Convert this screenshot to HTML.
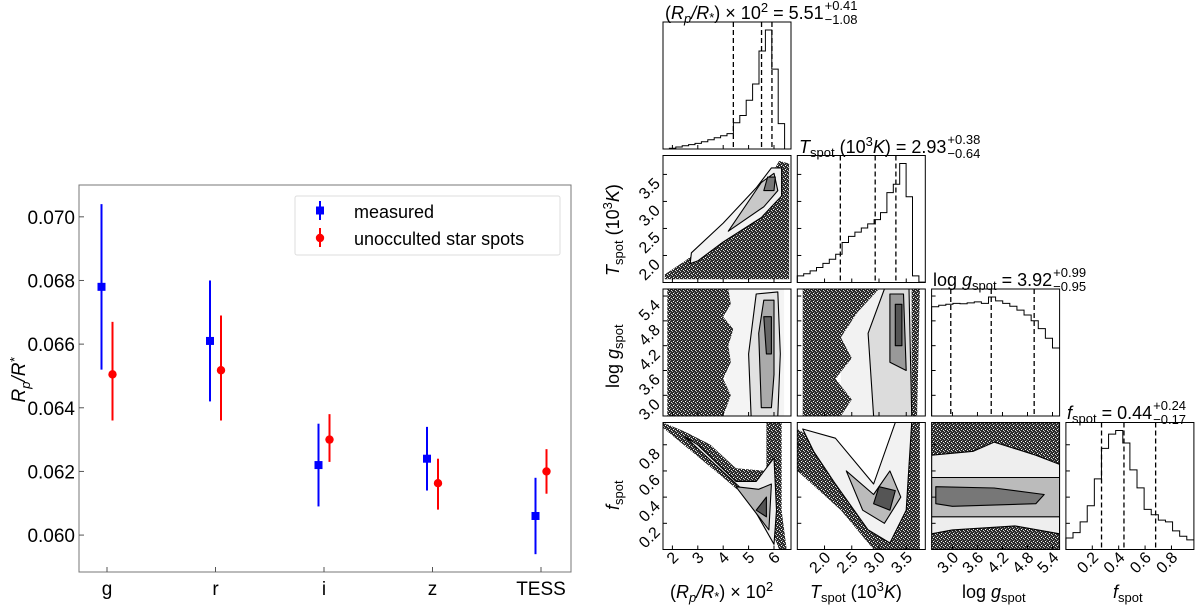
<!DOCTYPE html>
<html><head><meta charset="utf-8"><style>
body{margin:0;background:#fff}
svg{display:block;font-family:"Liberation Sans",sans-serif}
</style></head><body>
<svg id="fig" width="1200" height="610" viewBox="0 0 1200 610">
<defs>
<pattern id="speck" width="4" height="4" patternUnits="userSpaceOnUse">
<rect width="4" height="4" fill="#2a2a2a"/><rect x="1" y="1" width="1" height="1" fill="#fff"/><rect x="3" y="2" width="1" height="1" fill="#ddd"/><rect x="0" y="3" width="1" height="1" fill="#bbb"/><rect x="2" y="0" width="1" height="1" fill="#888"/>
</pattern>
</defs>
<g id="left"></g>
<g id="corner"></g>
</svg>
<script>
// ---------- Left chart data ----------
const bands = ["g","r","i","z","TESS"];
const measVal = [0.0678,0.0661,0.0622,0.0624,0.0606];
const measLo  = [0.0652,0.0642,0.0609,0.0614,0.0594];
const measHi  = [0.0704,0.0680,0.0635,0.0634,0.0618];
const spotVal = [0.06505,0.06518,0.0630,0.06163,0.0620];
const spotLo  = [0.0636,0.0636,0.0623,0.0608,0.0613];
const spotHi  = [0.0667,0.0669,0.0638,0.0624,0.0627];
const yTicks  = [0.060,0.062,0.064,0.066,0.068,0.070];

// ---------- Corner data ----------
const histR = [0,2,5,8,11,14,18,23,28,33,38,65,83,121,161,243,295,198,63,0];
const histT = [16,21,28,36,46,56,68,96,111,121,131,141,151,168,216,236,286,206,16,1];
const histG = [225,228,230,232,231,233,235,232,245,237,232,226,218,208,196,180,160,140];
const histF = [32,47,77,122,197,282,322,332,297,222,172,112,97,82,77,52,37,27];
const qR = [4.40,5.51,5.92], qT=[2.29,2.93,3.31], qG=[2.96,3.93,4.96], qF=[0.27,0.44,0.68];
const ticksR=[2,3,4,5,6], ticksT=[2.0,2.5,3.0,3.5], ticksG=[3.0,3.6,4.2,4.8,5.4], ticksF=[0.2,0.4,0.6,0.8];
const tickLblT=["2.0","2.5","3.0","3.5"], tickLblG=["3.0","3.6","4.2","4.8","5.4"], tickLblF=["0.2","0.4","0.6","0.8"];
const cRT_dark=[[1.7,1.56],[1.7,1.65],[2.5,1.9],[4,2.45],[5.6,3.25],[6.2,3.75],[6.6,3.7],[6.6,1.56]];
const cRT_1=[[2.7,1.85],[2.75,2.05],[4,2.6],[5.3,3.25],[5.9,3.62],[6.3,3.62],[6.3,3.1],[5.5,2.7],[4,2.25],[3,1.9]];
const cRT_2=[[4.2,2.45],[5.5,3.35],[6.0,3.52],[6.15,3.2],[5.6,2.9]];
const cRT_3=[[5.6,3.2],[5.75,3.45],[6.05,3.45],[6.0,3.2]];
const cRG_dark=[[1.8,2.5],[1.8,5.57],[4.2,5.57],[4.3,5.2],[4.0,4.9],[4.4,4.6],[4.2,4.2],[4.3,3.8],[4.0,3.4],[4.3,3.0],[4.0,2.5]];
const cRG_1=[[5.1,2.5],[5.0,4.0],[5.3,5.45],[6.15,5.5],[6.25,4.0],[6.15,2.5]];
const cRG_2=[[5.5,2.7],[5.4,4.5],[5.6,5.3],[6.0,5.3],[6.0,3.5],[5.9,2.7]];
const cRG_3=[[5.7,4.0],[5.6,4.9],[5.9,4.9],[5.9,4.0]];
const cRF_dark=[[1.63,0.93],[4,0.55],[5.5,0.3],[6.0,0.1],[6.2,0.0],[6.5,0.0],[6.3,0.3],[6.3,0.97],[5.7,0.97],[5.7,0.6],[4.5,0.62],[3.5,0.8],[2.5,0.9],[1.63,0.97]];
const cRF_1=[[2.5,0.86],[4.8,0.45],[6.0,0.04],[6.1,0.3],[6.0,0.7],[5.3,0.52],[4.5,0.52],[3.0,0.8]];
const cRF_2=[[4.5,0.48],[5.8,0.15],[5.9,0.5],[5.4,0.46]];
const cRF_3=[[5.3,0.3],[5.7,0.25],[5.7,0.4]];
const cTG_dark=[[1.6,2.5],[1.6,5.57],[3.0,5.57],[2.6,5.0],[2.3,4.4],[2.5,3.9],[2.2,3.4],[2.5,2.9],[2.3,2.5]];
const cTG_1=[[2.9,2.5],[2.8,4.5],[3.1,5.57],[3.55,5.57],[3.6,2.5]];
const cTG_2=[[3.2,3.8],[3.2,5.45],[3.45,5.45],[3.5,3.6]];
const cTG_3=[[3.3,4.2],[3.3,5.2],[3.42,5.2],[3.42,4.2]];
const cTF_dark=[[1.5,0.92],[2.0,0.8],[2.8,0.45],[3.2,0.6],[3.4,0.97],[3.75,0.97],[3.75,0.0],[2.9,0.0],[2.3,0.3],[1.5,0.6]];
const cTF_1=[[1.6,0.92],[2.2,0.85],[2.9,0.5],[3.3,0.97],[3.6,0.97],[3.5,0.3],[3.2,0.05],[2.8,0.15],[2.2,0.5],[1.8,0.75]];
const cTF_2=[[2.4,0.6],[2.9,0.42],[3.2,0.6],[3.4,0.4],[3.1,0.2],[2.7,0.3]];
const cTF_3=[[2.9,0.35],[3.0,0.48],[3.3,0.45],[3.2,0.3]];
const cGF_1=[[2.5,0.72],[3.5,0.75],[4.0,0.82],[5.0,0.72],[5.57,0.65],[5.57,0.12],[4.5,0.18],[3.0,0.15],[2.5,0.12]];
const cGF_2=[[2.5,0.55],[5.57,0.55],[5.57,0.25],[2.5,0.25]];
const cGF_3=[[2.6,0.48],[4.0,0.47],[5.2,0.42],[5.0,0.35],[3.0,0.33],[2.6,0.35]];

const NS="http://www.w3.org/2000/svg";
function mk(parent,tag,attrs,text){const e=document.createElementNS(NS,tag);for(const k in attrs)e.setAttribute(k,attrs[k]);if(text!==undefined)e.textContent=text;parent.appendChild(e);return e;}

// ---------- Left chart ----------
const L=document.getElementById('left');
const ax={x0:79,x1:571,y0:185,y1:572};
const vmin=0.05884,vmax=0.07100;
const yS=v=>ax.y1-(v-vmin)/(vmax-vmin)*(ax.y1-ax.y0);
const xS=i=>107+i*108.5;
let f=mk(L,'rect',{x:ax.x0,y:ax.y0,width:ax.x1-ax.x0,height:ax.y1-ax.y0,fill:'none',stroke:'#777','stroke-width':1});

yTicks.forEach(t=>{
 const y=yS(t);
 let l=mk(L,'line',{x1:ax.x0,x2:ax.x0+5,y1:y,y2:y,stroke:'#555'});
 
 let tx=mk(L,'text',{x:ax.x0-4,y:y+7,'text-anchor':'end','font-size':19},t.toFixed(3));
 
});
bands.forEach((b,i)=>{
 const x=xS(i);
 let l=mk(L,'line',{x1:x,x2:x,y1:ax.y1,y2:ax.y1-5,stroke:'#555'});
 
 let tx=mk(L,'text',{x:x,y:595,'text-anchor':'middle','font-size':19},b);
 
 const xb=x-5.5,xr=x+5.5;
 let e1=mk(L,'line',{x1:xb,x2:xb,y1:yS(measLo[i]),y2:yS(measHi[i]),stroke:'#0000ff','stroke-width':2});
 
 let m1=mk(L,'rect',{x:xb-4,y:yS(measVal[i])-4,width:8,height:8,fill:'#0000ff'});
 
 let e2=mk(L,'line',{x1:xr,x2:xr,y1:yS(spotLo[i]),y2:yS(spotHi[i]),stroke:'#ff0000','stroke-width':2});
 
 let m2=mk(L,'circle',{cx:xr,cy:yS(spotVal[i]),r:4.2,fill:'#ff0000'});
 
});
let yl=mk(L,'text',{x:0,y:0,transform:'translate(25,380) rotate(-90)','text-anchor':'middle','font-size':19,'font-style':'italic'});
yl.innerHTML='R<tspan font-size="13" dy="5">p</tspan><tspan dy="-5">/R</tspan><tspan font-size="13" dy="-6">*</tspan>';

const lg=mk(L,'g',{});

mk(lg,'rect',{x:295,y:196,width:265,height:59,fill:'#fff',stroke:'#ddd',rx:2});
mk(lg,'line',{x1:320,x2:320,y1:201,y2:220,stroke:'#0000ff','stroke-width':2});
mk(lg,'rect',{x:316,y:206.5,width:8,height:8,fill:'#0000ff'});
let le1=mk(lg,'text',{x:354,y:218,'font-size':18},'measured');

mk(lg,'line',{x1:320,x2:320,y1:228,y2:247,stroke:'#ff0000','stroke-width':2});
mk(lg,'circle',{cx:320,cy:238,r:4.2,fill:'#ff0000'});
let le2=mk(lg,'text',{x:354,y:245,'font-size':18},'unocculted star spots');


// ---------- Corner plot ----------
const C=document.getElementById('corner');
const RNG={R:[1.63,6.67],T:[1.5,3.85],G:[2.5,5.57],F:[0.0,0.97]};
const PW=128,PH=127;
function pbox(col,row){return {x:663+col*134.3,y:22+row*133.5};}
function sx(col,v,k){const p=pbox(col,0);const r=RNG[k];return p.x+(v-r[0])/(r[1]-r[0])*PW;}
function sy(row,v,k){const p=pbox(0,row);const r=RNG[k];return p.y+PH-(v-r[0])/(r[1]-r[0])*PH;}
const vars=['R','T','G','F'];
function clipFor(col,row){
 const id='c'+col+row;const p=pbox(col,row);
 const cp=mk(document.querySelector('defs'),'clipPath',{id:id});
 mk(cp,'rect',{x:p.x,y:p.y,width:PW,height:PH});return 'url(#'+id+')';
}
function poly(g,col,row,pts,fill,stroke){
 const kx=vars[col],ky=vars[row];
 const d=pts.map(q=>sx(col,q[0],kx).toFixed(1)+','+sy(row,q[1],ky).toFixed(1)).join(' ');
 return mk(g,'polygon',{points:d,fill:fill,stroke:stroke||'none','stroke-width':1.1,'stroke-linejoin':'round'});
}
function panel2d(col,row,layers,name){
 const g=mk(C,'g',{'clip-path':clipFor(col,row)});
 
 layers.forEach(l=>poly(g,col,row,l[0],l[1],l[2]));
}
function hist(col,counts,q,name){
 const k=vars[col];const r=RNG[k];const p=pbox(col,col);
 const g=mk(C,'g',{});
 
 const mx=Math.max(...counts);const n=counts.length;const w=(r[1]-r[0])/n;
 let d='';
 counts.forEach((c,i)=>{
  const x0=sx(col,r[0]+i*w,k),x1=sx(col,r[0]+(i+1)*w,k);
  const y=p.y+PH-c/mx*(PH-8);
  d+=(i===0?'M'+x0+','+(p.y+PH):'')+' L'+x0+','+y+' L'+x1+','+y;
 });
 mk(g,'path',{d:d,fill:'none',stroke:'#000','stroke-width':1});
 q.forEach(v=>{const x=sx(col,v,k);mk(g,'line',{x1:x,x2:x,y1:p.y,y2:p.y+PH,stroke:'#000','stroke-width':1.3,'stroke-dasharray':'5,3'});});
}
const LC='#000';
panel2d(0,1,[[cRT_dark,'url(#speck)'],[cRT_1,'#f3f3f3',LC],[cRT_2,'#c8c8c8',LC],[cRT_3,'#777',LC]],'panel-rp-tspot');
panel2d(0,2,[[[[4.1,2.5],[4.1,5.57],[6.4,5.57],[6.4,2.5]],'#f4f4f4'],[cRG_dark,'url(#speck)'],[cRG_1,'#e2e2e2',LC],[cRG_2,'#aaa',LC],[cRG_3,'#666',LC]],'panel-rp-logg');
panel2d(0,3,[[cRF_dark,'url(#speck)'],[cRF_1,'#efefef',LC],[cRF_2,'#b5b5b5',LC],[cRF_3,'#555',LC]],'panel-rp-fspot');
panel2d(1,2,[[[[2.3,2.5],[2.3,5.57],[3.6,5.57],[3.6,2.5]],'#f2f2f2'],[cTG_dark,'url(#speck)'],[[[3.6,2.5],[3.7,2.5],[3.75,5.57],[3.6,5.57]],'url(#speck)'],[cTG_1,'#dcdcdc',LC],[cTG_2,'#999',LC],[cTG_3,'#555',LC]],'panel-tspot-logg');
panel2d(1,3,[[cTF_dark,'url(#speck)'],[cTF_1,'#f2f2f2',LC],[cTF_2,'#bbb',LC],[cTF_3,'#555',LC]],'panel-tspot-fspot');
panel2d(2,3,[[[[2.5,0],[2.5,0.97],[5.57,0.97],[5.57,0]],'url(#speck)'],[cGF_1,'#eee',LC],[cGF_2,'#bbb',LC],[cGF_3,'#777',LC]],'panel-logg-fspot');
hist(0,histR,qR,'hist-rp');hist(1,histT,qT,'hist-tspot');hist(2,histG,qG,'hist-logg');hist(3,histF,qF,'hist-fspot');

// frames + ticks
const tickSets={R:[ticksR,ticksR.map(String)],T:[ticksT,tickLblT],G:[ticksG,tickLblG],F:[ticksF,tickLblF]};
for(let row=0;row<4;row++)for(let col=0;col<=row;col++){
 const p=pbox(col,row);
 let fr=mk(C,'rect',{x:p.x,y:p.y,width:PW,height:PH,fill:'none',stroke:'#000','stroke-width':1});
 
 const kx=vars[col];
 tickSets[kx][0].forEach((t,i)=>{
  const x=sx(col,t,kx);mk(C,'line',{x1:x,x2:x,y1:p.y+PH,y2:p.y+PH-4,stroke:'#000'});
  if(row===3){let tl=mk(C,'text',{x:0,y:0,transform:`translate(${x+7},${p.y+PH+9}) rotate(-45)`,'text-anchor':'end','font-size':16},tickSets[kx][1][i]);
   }
 });
 if(row>0){const ky=vars[row];
  tickSets[ky][0].forEach((t,i)=>{
   const y=sy(row,t,ky);mk(C,'line',{x1:p.x,x2:p.x+4,y1:y,y2:y,stroke:'#000'});
   if(col===0){let tl=mk(C,'text',{x:0,y:0,transform:`translate(${p.x-2},${y+10}) rotate(-45)`,'text-anchor':'end','font-size':16},tickSets[ky][1][i]);
    }
  });
 }
}
function rich(x,y,html,name,extra){
 const t=mk(C,'text',Object.assign({x:x,y:y,'font-size':18},extra||{}));t.innerHTML=html;
 return t;
}
function title(x,y,html,name,sup,sub){
 const t=rich(x,y,html,name);
 const w=t.getBBox().width;
 let a=mk(C,'text',{x:x+w+1,y:y-9,'font-size':13},sup);
 
 let b=mk(C,'text',{x:x+w+1,y:y+5,'font-size':13},sub);
 
}
title(665,19,'(<tspan font-style="italic">R</tspan><tspan font-size="13" dy="4" font-style="italic">p</tspan><tspan dy="-4" font-style="italic">/R</tspan><tspan font-size="13" dy="3">*</tspan><tspan dy="-3">) × 10</tspan><tspan font-size="13" dy="-7">2</tspan><tspan dy="7"> = 5.51</tspan>','title-rp','+0.41','−1.08');
title(799,153,'<tspan font-style="italic">T</tspan><tspan font-size="13" dy="4">spot</tspan><tspan dy="-4"> (10</tspan><tspan font-size="13" dy="-7">3</tspan><tspan dy="7" font-style="italic">K</tspan><tspan>) = 2.93</tspan>','title-tspot','+0.38','−0.64');
title(933,286,'log <tspan font-style="italic">g</tspan><tspan font-size="13" dy="4">spot</tspan><tspan dy="-4"> = 3.92</tspan>','title-logg','+0.99','−0.95');
title(1067,419,'<tspan font-style="italic">f</tspan><tspan font-size="13" dy="4">spot</tspan><tspan dy="-4"> = 0.44</tspan>','title-fspot','+0.24','−0.17');
// axis titles
rich(670,598,'(<tspan font-style="italic">R</tspan><tspan font-size="13" dy="4" font-style="italic">p</tspan><tspan dy="-4" font-style="italic">/R</tspan><tspan font-size="13" dy="3">*</tspan><tspan dy="-3">) × 10</tspan><tspan font-size="13" dy="-7">2</tspan>','x-axis-title-rp');
rich(810,598,'<tspan font-style="italic">T</tspan><tspan font-size="13" dy="4">spot</tspan><tspan dy="-4"> (10</tspan><tspan font-size="13" dy="-7">3</tspan><tspan dy="7" font-style="italic">K</tspan><tspan>)</tspan>','x-axis-title-tspot');
rich(962,598,'log <tspan font-style="italic">g</tspan><tspan font-size="13" dy="4">spot</tspan>','x-axis-title-logg');
rich(1113,598,'<tspan font-style="italic">f</tspan><tspan font-size="13" dy="4">spot</tspan>','x-axis-title-fspot');
rich(0,0,'<tspan font-style="italic">T</tspan><tspan font-size="13" dy="4">spot</tspan><tspan dy="-4"> (10</tspan><tspan font-size="13" dy="-7">3</tspan><tspan dy="7" font-style="italic">K</tspan><tspan>)</tspan>','y-axis-title-tspot',{transform:'translate(619,276) rotate(-90)'});
rich(0,0,'log <tspan font-style="italic">g</tspan><tspan font-size="13" dy="4">spot</tspan>','y-axis-title-logg',{transform:'translate(619,388) rotate(-90)'});
rich(0,0,'<tspan font-style="italic">f</tspan><tspan font-size="13" dy="4">spot</tspan>','y-axis-title-fspot',{transform:'translate(619,510) rotate(-90)'});
</script>
</body></html>
